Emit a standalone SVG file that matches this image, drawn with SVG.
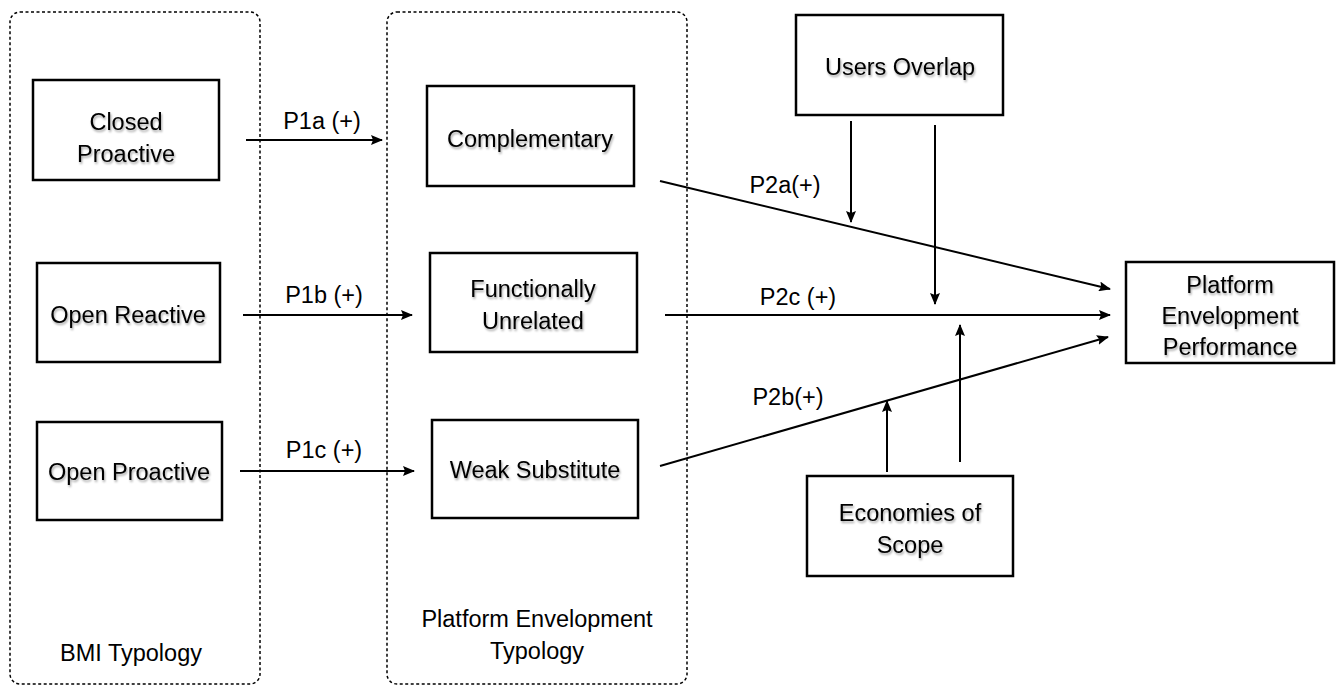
<svg xmlns="http://www.w3.org/2000/svg" width="1336" height="688" viewBox="0 0 1336 688">
<defs>
<marker id="arr" viewBox="0 0 12 10" refX="11" refY="5" markerWidth="12" markerHeight="10" markerUnits="userSpaceOnUse" orient="auto">
<path d="M0,0 L12,5 L0,10 L2,5 z" fill="#000"/>
</marker>
<filter id="sh" x="-10%" y="-20%" width="120%" height="150%">
<feDropShadow dx="1" dy="2" stdDeviation="1.2" flood-color="#000" flood-opacity="0.35"/>
</filter>
</defs>
<style>
.grp{fill:none;stroke:#000;stroke-width:1.5;stroke-dasharray:3,2.5}
.box{fill:#fff;stroke:#000;stroke-width:2.5}
.t{font-family:"Liberation Sans",Arial,sans-serif;font-size:23.5px;fill:#000;text-anchor:middle}
.nt{filter:url(#sh)}
.c{stroke:#000;stroke-width:2;fill:none;marker-end:url(#arr)}
</style>
<rect width="1336" height="688" fill="#fff"/>
<g id="containers">
<rect class="grp" x="10" y="12" width="250" height="672" rx="10"/>
<rect class="grp" x="387" y="12" width="300" height="672" rx="10"/>
<text class="t" x="131" y="661">BMI Typology</text>
<text class="t" x="537" y="627">Platform Envelopment</text>
<text class="t" x="537" y="659">Typology</text>
</g>
<g id="connectors">
<line class="c" x1="246" y1="140" x2="382" y2="140"/>
<line class="c" x1="243" y1="315" x2="412" y2="315"/>
<line class="c" x1="240" y1="471" x2="414" y2="471"/>
<line class="c" x1="660" y1="181" x2="1110" y2="289"/>
<line class="c" x1="665" y1="315" x2="1110" y2="315"/>
<line class="c" x1="660" y1="466" x2="1108" y2="337"/>
<line class="c" x1="851" y1="121" x2="851" y2="222"/>
<line class="c" x1="935" y1="125" x2="935" y2="304"/>
<line class="c" x1="887" y1="472" x2="887" y2="401"/>
<line class="c" x1="960" y1="462" x2="960" y2="325"/>
<text class="t" x="322" y="129">P1a (+)</text>
<text class="t" x="324" y="303">P1b (+)</text>
<text class="t" x="324" y="458">P1c (+)</text>
<text class="t" x="785" y="193">P2a(+)</text>
<text class="t" x="798" y="305">P2c (+)</text>
<text class="t" x="788" y="405">P2b(+)</text>
</g>
<g id="closed-proactive">
<rect class="box" x="33" y="80" width="186" height="100"/>
<text class="t nt" x="126" y="130">Closed</text>
<text class="t nt" x="126" y="162">Proactive</text>
</g>
<g id="open-reactive">
<rect class="box" x="37" y="263" width="183" height="99"/>
<text class="t nt" x="128" y="323">Open Reactive</text>
</g>
<g id="open-proactive">
<rect class="box" x="37" y="422" width="185" height="98"/>
<text class="t nt" x="129" y="480">Open Proactive</text>
</g>
<g id="complementary">
<rect class="box" x="427" y="86" width="207" height="100"/>
<text class="t nt" x="530" y="147">Complementary</text>
</g>
<g id="functionally-unrelated">
<rect class="box" x="430" y="253" width="207" height="99"/>
<text class="t nt" x="533" y="297">Functionally</text>
<text class="t nt" x="533" y="329">Unrelated</text>
</g>
<g id="weak-substitute">
<rect class="box" x="432" y="420" width="206" height="98"/>
<text class="t nt" x="535" y="478">Weak Substitute</text>
</g>
<g id="users-overlap">
<rect class="box" x="796" y="15" width="207" height="100"/>
<text class="t nt" x="900" y="75">Users Overlap</text>
</g>
<g id="economies-of-scope">
<rect class="box" x="807" y="476" width="206" height="100"/>
<text class="t nt" x="910" y="521">Economies of</text>
<text class="t nt" x="910" y="553">Scope</text>
</g>
<g id="platform-envelopment-performance">
<rect class="box" x="1126" y="262" width="208" height="101"/>
<text class="t nt" x="1230" y="293">Platform</text>
<text class="t nt" x="1230" y="324">Envelopment</text>
<text class="t nt" x="1230" y="355">Performance</text>
</g>
</svg>
